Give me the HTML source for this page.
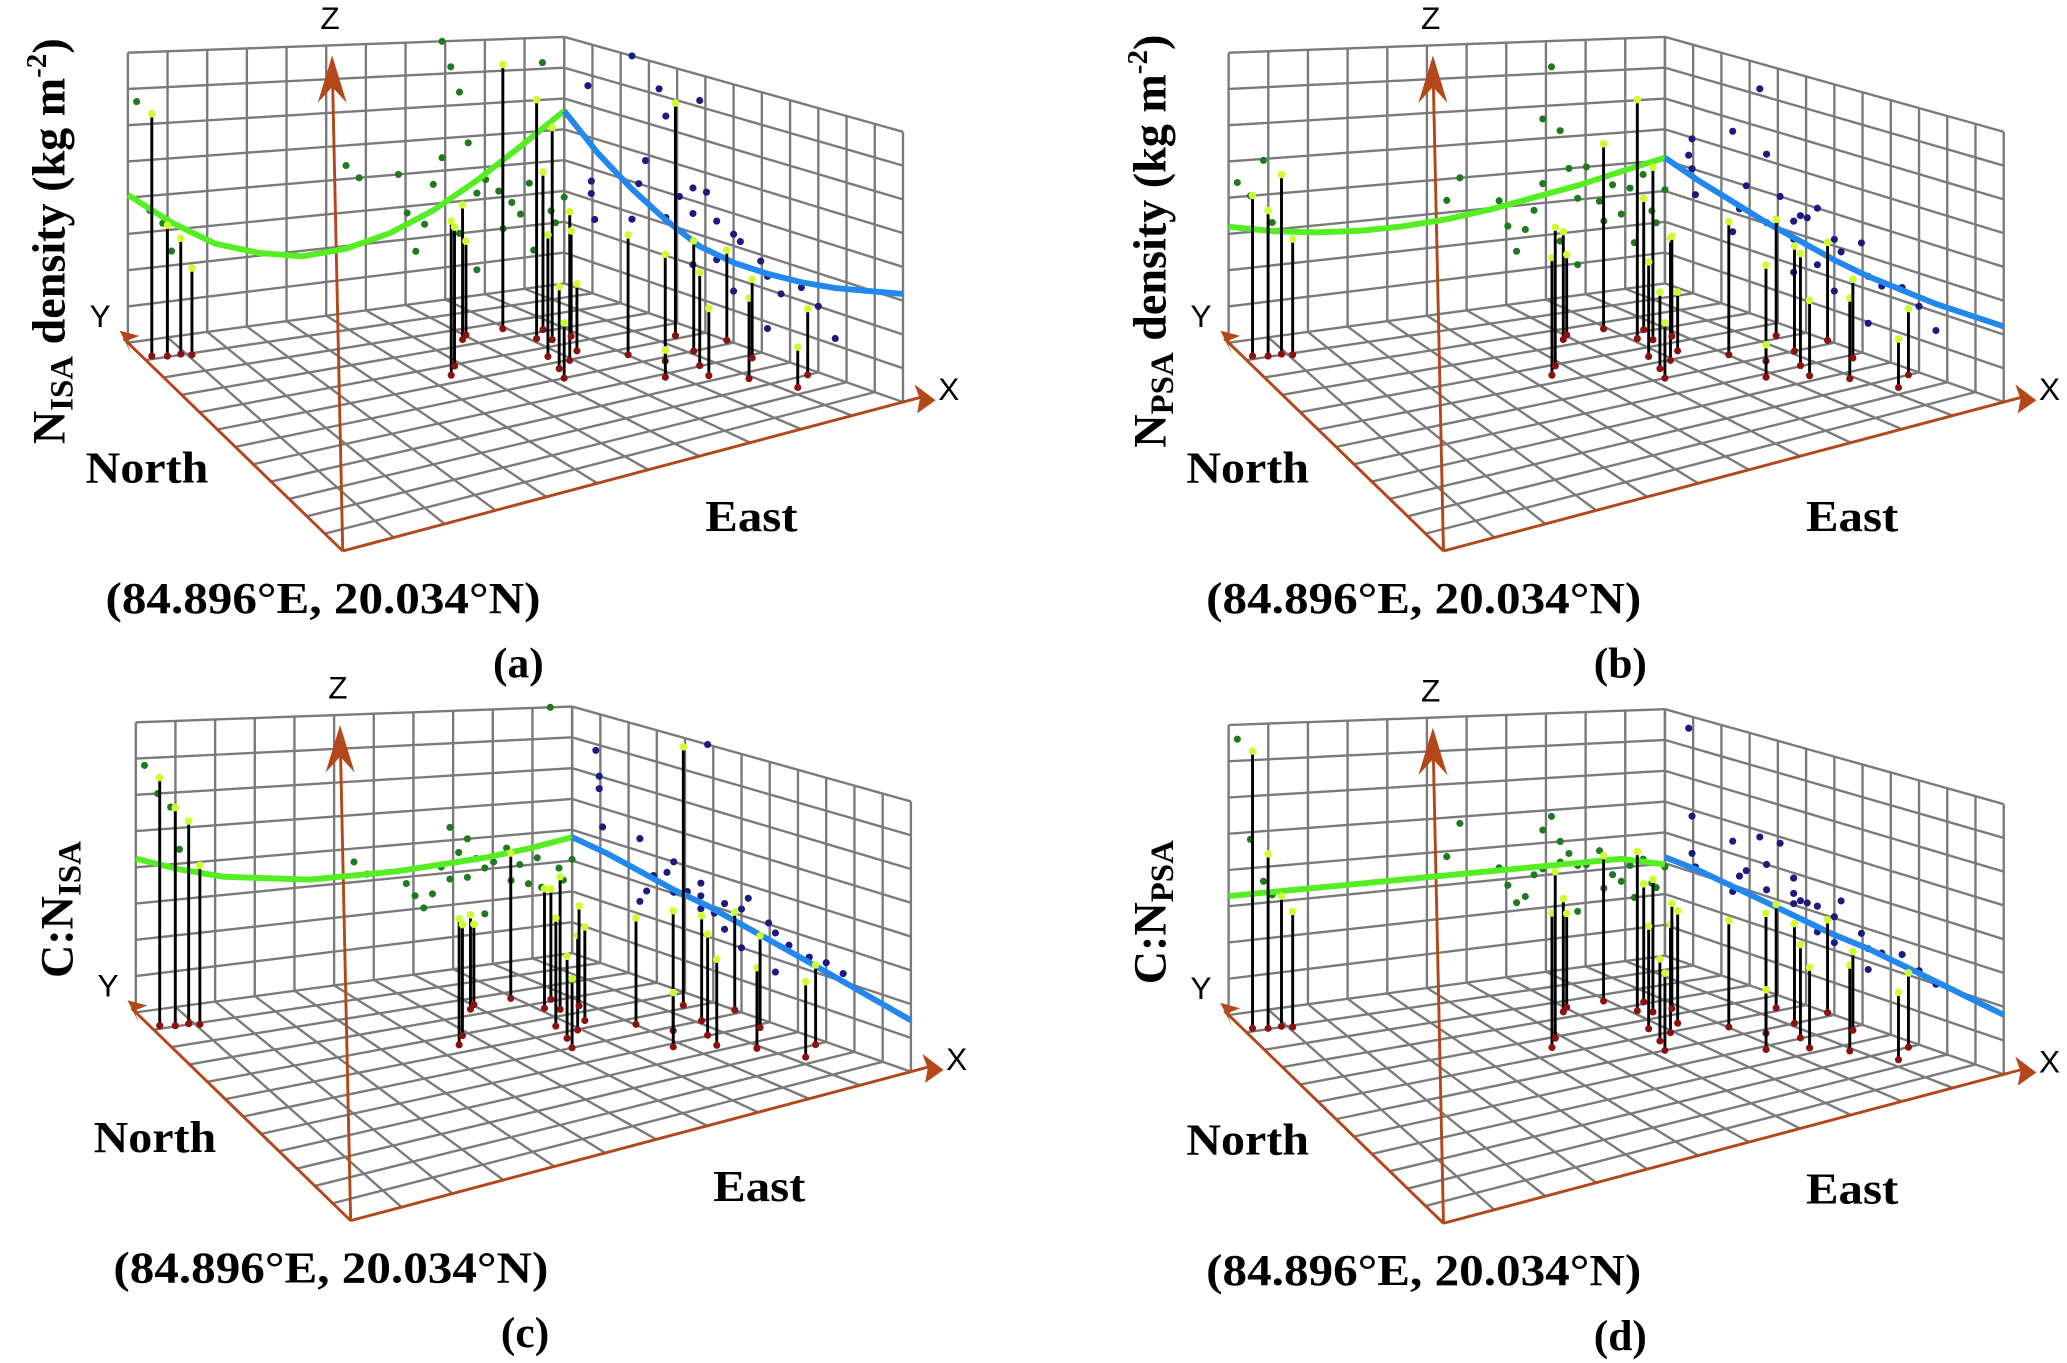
<!DOCTYPE html>
<html><head><meta charset="utf-8"><style>
html,body{margin:0;padding:0;background:#fff;}
svg{display:block;}
.lbl{font-family:"Liberation Serif",serif;font-weight:bold;fill:#000;}
.ax{font-family:"Liberation Sans",sans-serif;fill:#000;}
</style></head><body>
<svg id="fig" xmlns="http://www.w3.org/2000/svg" width="2067" height="1363" viewBox="0 0 1568 1034" preserveAspectRatio="none"></svg>
<script>
// ---- data (u: easting fraction, v: northing fraction, w: value fraction of z-range) ----
const stemsU_a=[0.02,0.05,0.08,0.10,0.50,0.53,0.62,0.64,0.72,0.74,0.76,0.70,0.72,0.78,0.80,0.68,0.76,0.66,0.82,0.85,0.88,0.86,0.92,0.90,0.95,0.97,0.98,1.00,0.93,0.80];
const stemsV_a=[0.93,0.92,0.92,0.91,0.62,0.66,0.78,0.80,0.80,0.72,0.70,0.62,0.58,0.76,0.70,0.55,0.62,0.50,0.55,0.48,0.42,0.36,0.50,0.30,0.60,0.40,0.25,0.52,0.20,0.40];
const stemsW_a=[0.83,0.45,0.40,0.30,0.55,0.50,0.50,0.35,1.00,0.90,0.80,0.45,0.55,0.60,0.40,0.30,0.25,0.20,0.45,0.40,0.35,0.25,0.42,0.30,0.90,0.30,0.25,0.35,0.15,0.10];
const stemsW_b=[0.55,0.50,0.62,0.40,0.42,0.50,0.40,0.30,0.70,0.90,0.65,0.35,0.45,0.50,0.38,0.28,0.22,0.20,0.50,0.36,0.42,0.28,0.40,0.30,0.45,0.30,0.25,0.38,0.18,0.12];
const stemsW_c=[0.85,0.75,0.70,0.55,0.45,0.40,0.35,0.30,0.55,0.45,0.50,0.40,0.35,0.42,0.38,0.30,0.35,0.25,0.40,0.45,0.38,0.32,0.40,0.30,1.00,0.35,0.30,0.38,0.28,0.20];
const stemsW_d=[0.95,0.60,0.45,0.40,0.48,0.60,0.42,0.35,0.55,0.60,0.50,0.38,0.40,0.45,0.40,0.30,0.42,0.28,0.40,0.45,0.35,0.30,0.38,0.32,0.40,0.30,0.28,0.36,0.25,0.22];
const curveU=[0,0.1,0.2,0.3,0.4,0.5,0.6,0.7,0.8,0.9,1];
const greenW_a=[0.51,0.40,0.31,0.26,0.23,0.24,0.28,0.35,0.45,0.57,0.70];
const blueW_a=[0.40,0.37,0.34,0.32,0.31,0.31,0.33,0.39,0.47,0.57,0.70];
const greenW_b=[0.40,0.37,0.35,0.34,0.34,0.35,0.37,0.40,0.43,0.47,0.51];
const blueW_b=[0.28,0.28,0.28,0.29,0.30,0.32,0.35,0.38,0.42,0.46,0.51];
const greenW_c=[0.53,0.48,0.44,0.42,0.40,0.40,0.40,0.41,0.42,0.44,0.47];
const blueW_c=[0.19,0.22,0.25,0.28,0.31,0.34,0.37,0.39,0.42,0.45,0.47];
const greenW_d=[0.41,0.41,0.41,0.41,0.41,0.41,0.41,0.41,0.41,0.41,0.37];
const blueW_d=[0.22,0.24,0.26,0.28,0.30,0.31,0.33,0.35,0.37,0.39,0.40];
const panels=[
 {id:'a',dx:0,dy:0,w:stemsW_a,g:greenW_a,b:blueW_a,title:'N',sub:'ISA',rest:' density (kg m',sup:'-2',close:')'},
 {id:'b',dx:835,dy:0,w:stemsW_b,g:greenW_b,b:blueW_b,title:'N',sub:'PSA',rest:' density (kg m',sup:'-2',close:')'},
 {id:'c',dx:6,dy:508,w:stemsW_c,g:greenW_c,b:blueW_c,title:'C:N',sub:'ISA',rest:'',sup:'',close:''},
 {id:'d',dx:835,dy:510,w:stemsW_d,g:greenW_d,b:blueW_d,title:'C:N',sub:'PSA',rest:'',sup:'',close:''}
];
// ---- frame geometry ----
const O=[260,418],R=[685,305],B=[428,215],L=[97,260];
const H={O:250,R:205,B:187,L:220};
const NS='http://www.w3.org/2000/svg';
const svg=document.getElementById('fig');
function mk(tag,attrs,parent){const e=document.createElementNS(NS,tag);for(const k in attrs)e.setAttribute(k,attrs[k]);(parent||svg).appendChild(e);return e;}
function proj(p,u,v,w){
  const a=(1-u)*(1-v),b=u*(1-v),c=u*v,d=(1-u)*v;
  const x=a*O[0]+b*R[0]+c*B[0]+d*L[0];
  const y=a*O[1]+b*R[1]+c*B[1]+d*L[1];
  const h=a*H.O+b*H.R+c*H.B+d*H.L;
  return [x+p.dx,y+p.dy-w*h];
}
function line(g,p1,p2,stroke,sw,name){const e=mk('line',{x1:p1[0],y1:p1[1],x2:p2[0],y2:p2[1],stroke:stroke,'stroke-width':sw},g);return e;}
function dot(g,p,r,fill,name){const e=mk('circle',{cx:p[0],cy:p[1],r:r,fill:fill},g);return e;}
function txt(g,x,y,s,cls,size,name,extra){const e=mk('text',Object.assign({x:x,y:y,class:cls,'font-size':size},extra||{}),g);e.textContent=s;return e;}
const grid='#7a7a7a', axc='#b4471a';
panels.forEach(p=>{
  const g=mk('g',{});
  
  
  for(let i=0;i<=11;i++){const u=i/11;line(g,proj(p,u,0,0),proj(p,u,1,0),grid,1.8,'floor-grid-line');line(g,proj(p,u,1,0),proj(p,u,1,1),grid,1.8,'back-wall-grid-line');}
  for(let j=0;j<=12;j++){const v=j/12;line(g,proj(p,0,v,0),proj(p,1,v,0),grid,1.8,'floor-grid-line');line(g,proj(p,1,v,0),proj(p,1,v,1),grid,1.8,'side-wall-grid-line');}
  for(let k=1;k<=8;k++){const w=k/8;
    const pl=[];for(let i=0;i<=11;i++)pl.push(proj(p,i/11,1,w).join(','));
    const e1=mk('polyline',{points:pl.join(' '),fill:'none',stroke:grid,'stroke-width':1.8},g);
    const pr=[];for(let j=0;j<=12;j++)pr.push(proj(p,1,j/12,w).join(','));
    const e2=mk('polyline',{points:pr.join(' '),fill:'none',stroke:grid,'stroke-width':1.8},g);
  }
  const o=proj(p,0,0,0),xe=proj(p,1.03,0,0),ye=proj(p,0,1.02,0);
  line(g,o,xe,axc,2.2,'x-axis');line(g,o,ye,axc,2.2,'y-axis');
  line(g,o,[o[0]-8,p.dy+48],axc,2.2,'z-axis');
  const zh=mk('polygon',{points:`${o[0]-8},${p.dy+42} ${o[0]-19},${p.dy+78} ${o[0]-8},${p.dy+66} ${o[0]+3},${p.dy+78}`,fill:axc},g);
  const xh=mk('polygon',{points:`${xe[0]+12},${xe[1]+2} ${xe[0]-4},${xe[1]-10} ${xe[0]},${xe[1]+1} ${xe[0]-2},${xe[1]+12}`,fill:axc},g);
  const yh=mk('polygon',{points:`${ye[0]-3},${ye[1]-6} ${ye[0]+12},${ye[1]-2} ${ye[0]+2},${ye[1]+2} ${ye[0]+6},${ye[1]+12}`,fill:axc},g);
  for(let i=0;i<stemsU_a.length;i++){
    dot(g,proj(p,stemsU_a[i],1,p.w[i]),2.7,'#1f7a1f','xz-projection-point');
    dot(g,proj(p,1,stemsV_a[i],p.w[i]),2.7,'#1a1a80','yz-projection-point');
  }
  const gp=curveU.map((u,i)=>proj(p,u,1,p.g[i]).join(',')).join(' ');
  const gc=mk('polyline',{points:gp,fill:'none',stroke:'#55ee22','stroke-width':4.5,'stroke-linejoin':'round'},g);
  const bp=curveU.map((v,i)=>proj(p,1,v,p.b[i]).join(',')).join(' ');
  const bc=mk('polyline',{points:bp,fill:'none',stroke:'#2288ee','stroke-width':4.5,'stroke-linejoin':'round'},g);
  for(let i=0;i<stemsU_a.length;i++){
    const b0=proj(p,stemsU_a[i],stemsV_a[i],0),t0=proj(p,stemsU_a[i],stemsV_a[i],p.w[i]);
    line(g,b0,t0,'#000',2.2,'sample-stem');
    dot(g,b0,2.7,'#8b1010','stem-base');
    dot(g,t0,2.9,'#ccff33','sample-point');
  }
  const sa={lengthAdjust:'spacingAndGlyphs'};
  txt(g,o[0]-17,p.dy+22,'Z','ax',24,'z-axis-label');
  txt(g,p.dx+68,p.dy+248,'Y','ax',24,'y-axis-label');
  txt(g,xe[0]+14,xe[1]+2,'X','ax',24,'x-axis-label');
  txt(g,p.dx+65,p.dy+366,'North','lbl',34,'north-label',Object.assign({textLength:93},sa));
  txt(g,p.dx+535,p.dy+403,'East','lbl',34,'east-label',Object.assign({textLength:70},sa));
  txt(g,p.dx+80,p.dy+465,'(84.896°E, 20.034°N)','lbl',34,'origin-coordinates',Object.assign({textLength:330},sa));
  txt(g,p.dx+374,p.dy+514,'('+p.id+')','lbl',33,'panel-label');
  const t=txt(g,0,0,'','lbl',35,'z-axis-title',{transform:`translate(${p.dx+49},${p.dy+(p.rest?183:182)}) rotate(-90)`,'text-anchor':'middle'});
  const s1=mk('tspan',{},t);s1.textContent=p.title;
  const s2=mk('tspan',{'font-size':25,dy:6},t);s2.textContent=p.sub;
  if(p.rest){const s3=mk('tspan',{dy:-6},t);s3.textContent=p.rest;
    const s4=mk('tspan',{'font-size':22,dy:-14},t);s4.textContent=p.sup;
    const s5=mk('tspan',{dy:14},t);s5.textContent=p.close;}
});
</script>
</body></html>
